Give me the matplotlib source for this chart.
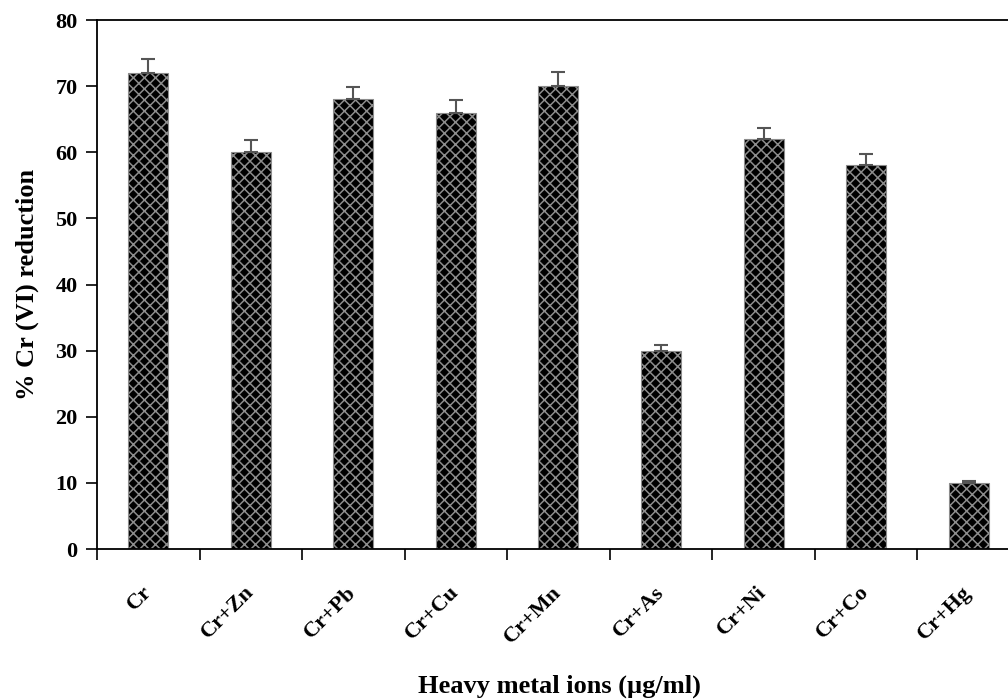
import numpy as np
import matplotlib
matplotlib.use("Agg")
import matplotlib.pyplot as plt

# data
metals = ["Cr", "Cr+Zn", "Cr+Pb", "Cr+Cu", "Cr+Mn", "Cr+As", "Cr+Ni", "Cr+Co", "Cr+Hg"]
reduction = [72, 60, 68, 66, 70, 30, 62, 58, 10]
err = [2.1, 1.8, 1.9, 1.9, 2.2, 0.8, 1.7, 1.8, 0.3]

plt.rcParams['font.family'] = ['Liberation Serif', 'DejaVu Serif']
plt.rcParams['font.weight'] = 'bold'
plt.rcParams['hatch.color'] = '#8c8c8c'
plt.rcParams['hatch.linewidth'] = 1.1

fig = plt.figure(figsize=(10.08, 7), dpi=100)
ax = fig.add_axes([0.0962, 0.2157, 0.9157, 0.7557])

x = np.arange(len(metals))
ax.bar(x, reduction, width=0.39, color='black', edgecolor='#8c8c8c',
       hatch='xxx', linewidth=0.8, zorder=2)
ax.errorbar(x, reduction, yerr=[np.zeros(len(err)), err], fmt='none',
            ecolor='#555555', elinewidth=1.5, capsize=5, capthick=1.5, zorder=3)

ax.set_xlim(-0.5, len(metals) - 0.5)
ax.set_ylim(0, 80)
ax.set_yticks(np.arange(0, 81, 10))
ax.set_xticks(x)
ax.set_xticklabels(metals, rotation=45, ha='right', va='center',
                   rotation_mode='anchor', fontsize=16, fontweight='bold')
ax.set_xticks(np.arange(-0.5, len(metals)), minor=True)
ax.tick_params(axis='x', which='major', length=0, pad=29)
ax.tick_params(axis='x', which='minor', length=8, width=1.2, direction='out')
ax.tick_params(axis='y', length=8, width=1.2, direction='out', labelsize=16, pad=6)
for lab in ax.get_yticklabels():
    lab.set_fontweight('bold')

for s in ['left', 'top', 'bottom', 'right']:
    ax.spines[s].set_linewidth(1.3)

ax.set_ylabel("% Cr (VI) reduction", fontsize=19, fontweight='bold', labelpad=12)
fig.text(559 / 1008, 1 - 686 / 700, "Heavy metal ions (µg/ml)", fontsize=19,
         fontweight='bold', ha='center', va='center')

fig.savefig("out.png", dpi=100)
